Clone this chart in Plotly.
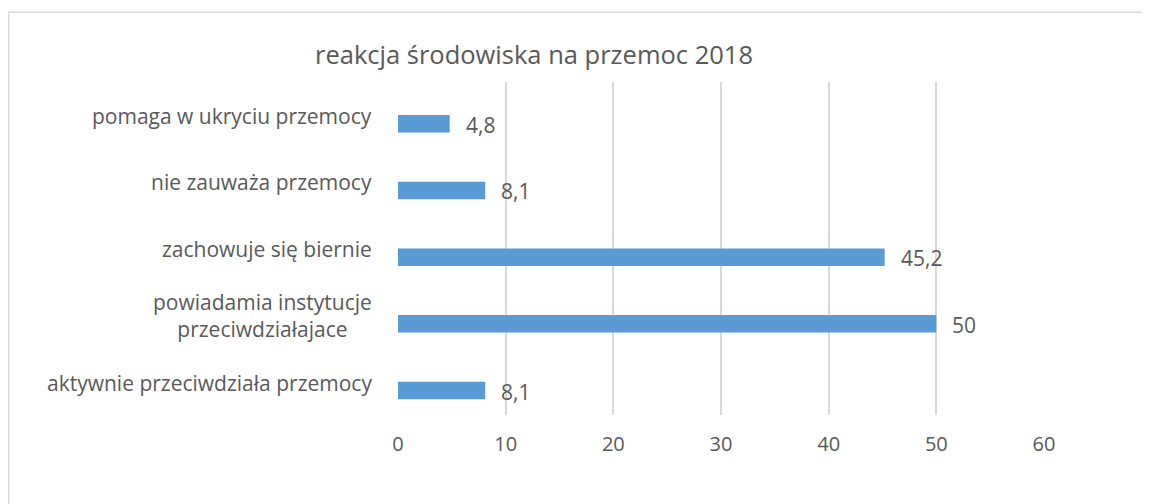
import plotly.graph_objects as go

# Data (bottom to top, as drawn)
categories = [
    "aktywnie przeciwdziała przemocy",
    "powiadamia instytucje<br>przeciwdziałajace",
    "zachowuje się biernie",
    "nie zauważa przemocy",
    "pomaga w ukryciu przemocy",
]
values = [8.1, 50, 45.2, 8.1, 4.8]
x_ticks = [0, 10, 20, 30, 40, 50, 60]
title_text = "reakcja środowiska na przemoc 2018"

FONT = "Open Sans"
TXT = "#595959"
GRID = "#d9d9d9"
BAR = "#5b9bd5"

OFF = 8  # page body margin
W, H = 1150 - OFF, 504 - OFF
L, R, T, B = 398 - OFF, 1044 - OFF, 82 - OFF, 415 - OFF  # plot area in figure px

def px_x(p):  # page px -> paper x
    return (p - OFF - L) / (R - L)

def px_y(p):  # page px -> paper y
    return (B - (p - OFF)) / (B - T)

pos = list(range(len(categories)))

fig = go.Figure()
fig.add_trace(go.Bar(
    x=values, y=pos, orientation="h",
    marker=dict(color=BAR, line=dict(width=0)),
    width=0.263, hoverinfo="skip",
))

def fmt(v):
    return f"{v:g}".replace(".", ",")

annotations = []
# data labels
for v, p in zip(values, pos):
    annotations.append(dict(
        x=v, y=p, xref="x", yref="y", text=fmt(v), showarrow=False,
        xanchor="left", yanchor="middle", xshift=14, yshift=-1,
        font=dict(family=FONT, size=21, color=TXT),
    ))
# category labels
for c, p in zip(categories, pos):
    annotations.append(dict(
        x=px_x(374), y=p, xref="paper", yref="y", text=c,
        showarrow=False, xanchor="right", yanchor="middle", yshift=8,
        align="center",
        font=dict(family=FONT, size=21, color=TXT),
    ))
# title
annotations.append(dict(
    x=px_x(534), y=px_y(54), xref="paper", yref="paper", text=title_text,
    showarrow=False, xanchor="center", yanchor="middle",
    font=dict(family=FONT, size=25.5, color=TXT),
))

fig.update_layout(
    width=W, height=H,
    margin=dict(l=L, r=W - R, t=T, b=H - B, pad=0),
    paper_bgcolor="white", plot_bgcolor="white",
    showlegend=False,
    annotations=annotations,
    xaxis=dict(
        range=[0, 60], tickvals=x_ticks, ticktext=[str(t) for t in x_ticks],
        showgrid=True, gridcolor=GRID, gridwidth=1.5,
        zeroline=False, showline=False, ticks="",
        tickfont=dict(family=FONT, size=20, color=TXT),
        ticklabelstandoff=15,
    ),
    yaxis=dict(
        range=[-0.367, 4.627], showticklabels=False, showgrid=False,
        zeroline=False, showline=False, ticks="",
    ),
    shapes=[dict(
        type="rect", xref="paper", yref="paper",
        x0=px_x(8.6), x1=px_x(1200),
        y0=px_y(560), y1=px_y(12.2),
        line=dict(color=GRID, width=1.5), fillcolor="rgba(0,0,0,0)",
        layer="below",
    )],
)

fig.write_html("out.html")
